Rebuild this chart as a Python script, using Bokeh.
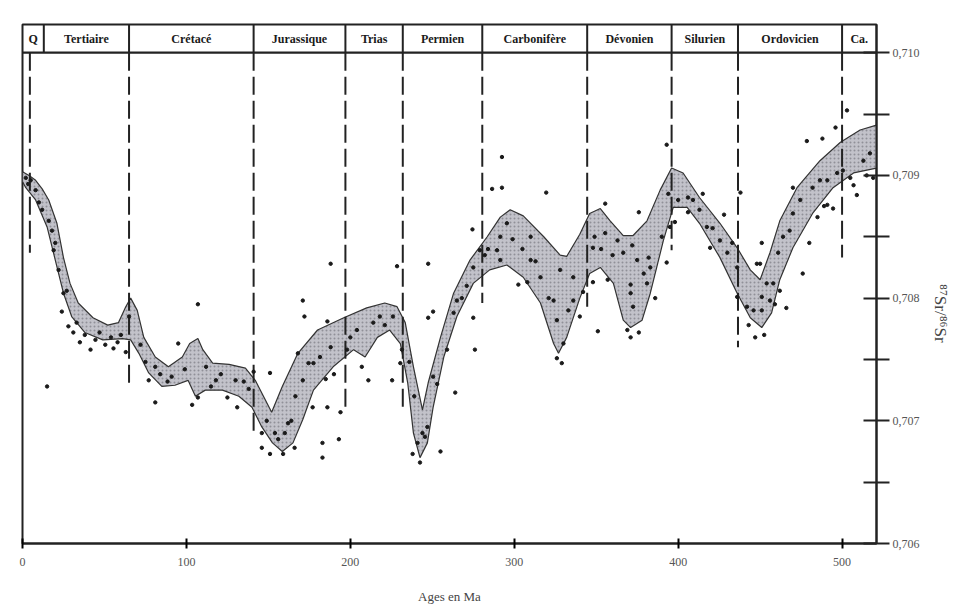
import math
from bokeh.plotting import figure
from bokeh.models import FixedTicker, CustomJSTickFormatter, Range1d
from bokeh.core.properties import value
from bokeh.embed import file_html
from bokeh.resources import INLINE

# ---------------- data ----------------
# upper edge of the 87Sr/86Sr envelope (age Ma, ratio)
upper_age = [0, 4, 8, 12, 16, 21, 25, 29, 34, 43, 52, 58.5, 63, 66, 70, 74, 81, 89, 97.5, 102, 107, 110,
             116, 126, 136, 142, 147, 152, 158.5, 168, 180, 196, 210, 221, 228.5, 233.5, 238.5, 244, 247.5,
             255, 263, 273, 283.5, 291.5, 297.5, 305.5, 318, 328, 332, 340, 346, 352.5, 358.5, 366.5, 372.5,
             381, 389, 396, 403, 413, 425.5, 436, 444, 450, 456, 462, 472.5, 486.5, 499, 511, 521]
upper_sr = [0.70903, 0.70900, 0.70896, 0.70889, 0.70880, 0.70861, 0.70833, 0.70812, 0.70796, 0.70784, 0.70778,
            0.70780, 0.70793, 0.70800, 0.70790, 0.70768, 0.70752, 0.70744, 0.70752, 0.70763, 0.70767, 0.70758,
            0.70747, 0.70746, 0.70743, 0.70733, 0.70720, 0.70707, 0.70728, 0.70755, 0.70774, 0.70784, 0.70792,
            0.70796, 0.70793, 0.70780, 0.70744, 0.70709, 0.70731, 0.70768, 0.70804, 0.70831, 0.70850, 0.70866,
            0.70872, 0.70867, 0.70850, 0.70835, 0.70834, 0.70852, 0.70869, 0.70873, 0.70863, 0.70851, 0.70851,
            0.70863, 0.70888, 0.70906, 0.70902, 0.70882, 0.70861, 0.70841, 0.70823, 0.70815, 0.70837, 0.70863,
            0.70890, 0.70912, 0.70927, 0.70937, 0.70941]
# lower edge of the envelope
lower_age = [0, 2, 8, 15, 20, 25, 30, 38, 49, 61, 66, 71, 77, 85, 93, 101, 105.5, 111.5, 122, 132, 140, 146,
             152.5, 158.5, 165, 171, 177.5, 189.5, 202, 209, 216.5, 224, 230.5, 235, 238.5, 242.5, 247, 250.5,
             257, 265, 275, 285, 295.5, 305.5, 316, 324, 327, 332, 340, 346, 352.5, 360.5, 366.5, 371, 378, 383,
             391, 397, 405.5, 413, 425.5, 436, 444, 451, 457, 462, 470, 482, 494.5, 507, 521]
lower_sr = [0.70895, 0.70890, 0.70880, 0.70858, 0.70831, 0.70804, 0.70785, 0.70772, 0.70766, 0.70767, 0.70766,
            0.70755, 0.70739, 0.70728, 0.70729, 0.70733, 0.70720, 0.70725, 0.70725, 0.70720, 0.70711, 0.70695,
            0.70682, 0.70675, 0.70682, 0.70701, 0.70725, 0.70744, 0.70758, 0.70752, 0.70768, 0.70774, 0.70763,
            0.70731, 0.70690, 0.70670, 0.70682, 0.70711, 0.70752, 0.70785, 0.70812, 0.70823, 0.70827, 0.70817,
            0.70796, 0.70763, 0.70755, 0.70768, 0.70800, 0.70820, 0.70825, 0.70812, 0.70782, 0.70776, 0.70782,
            0.70804, 0.70847, 0.70874, 0.70874, 0.70861, 0.70833, 0.70804, 0.70784, 0.70776, 0.70788, 0.70815,
            0.70841, 0.70869, 0.70890, 0.70902, 0.70906]

# measured samples
dot_age = [3.5, 2, 8, 12, 16, 18, 19, 22, 25, 15, 24, 28, 31, 35, 41.5, 44.5, 50.5, 55.5, 58, 63, 65,
           77, 81, 81, 88.5, 95, 103.5, 107, 107, 118, 125, 130, 131, 141, 146, 146, 151, 151, 156, 159,
           162, 166, 166.5, 168, 171, 171, 172, 174.5, 177, 177.5, 181.5, 183, 183, 185, 186, 186, 188,
           188, 190, 193, 194, 198, 204, 207, 211, 218, 225.5, 226, 228.5, 230.5, 231.5, 238, 241, 242.5,
           245.5, 247, 247.5, 247.5, 250.5, 250.5, 255, 259, 263, 264, 265, 274.5, 275, 275, 276, 279,
           286.5, 289.5, 291.5, 291.5, 292.5, 292.5, 295.5, 302.5, 308, 310, 310, 316, 319.5, 324, 326,
           326, 328, 329, 330, 336, 336, 340, 348, 348, 349, 351, 355.5, 355.5, 357, 363, 366.5, 369, 371,
           371, 371, 372, 372.5, 375, 376, 376, 381, 382, 383, 393, 393, 394, 395, 400, 406, 406, 413,
           417.5, 419.5, 421, 425.5, 430, 436, 436, 438, 442, 443, 446, 447, 450, 451, 451, 451, 452.5,
           456, 458, 461, 462, 464, 468, 470, 470, 474.5, 478.5, 482, 485, 486.5, 488, 491, 491, 494.5,
           496, 497, 500.5, 503, 505, 507, 513, 517, 519,
           5, 10, 20, 27, 33, 38, 47, 54, 60, 72, 75, 84, 91, 99, 112, 115, 121, 135, 138, 149, 154,
           160, 164, 200, 214, 221, 236, 239, 244, 253, 268, 271, 282, 284, 299, 305, 313, 321, 333,
           342, 353, 360, 379, 386, 390, 398, 409, 415, 428, 433, 448, 454, 459, 466, 476, 480, 489, 509, 515]
dot_sr = [0.70893, 0.70898, 0.70888, 0.70872, 0.70863, 0.70855, 0.70839, 0.70823, 0.70804, 0.70728, 0.70789,
          0.70777, 0.70772, 0.70764, 0.70758, 0.70766, 0.70762, 0.70759, 0.70764, 0.70756, 0.70785,
          0.70733, 0.70744, 0.70715, 0.70732, 0.70763, 0.70713, 0.70719, 0.70795, 0.70733, 0.70719, 0.70733,
          0.70711, 0.70740, 0.70690, 0.70678, 0.70739, 0.70673, 0.70685, 0.70673, 0.70698, 0.70678, 0.70720,
          0.70755, 0.70733, 0.70798, 0.70785, 0.70747, 0.70711, 0.70747, 0.70752, 0.70682, 0.70670, 0.70734,
          0.70711, 0.70781, 0.70828, 0.70760, 0.70738, 0.70685, 0.70707, 0.70758, 0.70774, 0.70744, 0.70733,
          0.70785, 0.70733, 0.70785, 0.70826, 0.70747, 0.70758, 0.70673, 0.70682, 0.70666, 0.70687, 0.70695,
          0.70828, 0.70784, 0.70789, 0.70736, 0.70675, 0.70758, 0.70788, 0.70723, 0.70798, 0.70856, 0.70784,
          0.70825, 0.70758, 0.70839, 0.70889, 0.70839, 0.70850, 0.70831, 0.70915, 0.70890, 0.70861, 0.70811,
          0.70813, 0.70850, 0.70831, 0.70817, 0.70886, 0.70798, 0.70782, 0.70751, 0.70823, 0.70747, 0.70763,
          0.70798, 0.70817, 0.70785, 0.70813, 0.70841, 0.70850, 0.70773, 0.70877, 0.70853, 0.70815, 0.70847,
          0.70837, 0.70774, 0.70768, 0.70804, 0.70811, 0.70843, 0.70793, 0.70831, 0.70870, 0.70772, 0.70812,
          0.70833, 0.70825, 0.70925, 0.70829, 0.70885, 0.70858, 0.70880, 0.70870, 0.70882, 0.70872, 0.70858,
          0.70841, 0.70857, 0.70847, 0.70837, 0.70825, 0.70801, 0.70886, 0.70793, 0.70778, 0.70790, 0.70768,
          0.70828, 0.70845, 0.70790, 0.70801, 0.70770, 0.70798, 0.70812, 0.70837, 0.70806, 0.70850, 0.70855,
          0.70869, 0.70890, 0.70880, 0.70928, 0.70890, 0.70866, 0.70896, 0.70930, 0.70876, 0.70896, 0.70873,
          0.70939, 0.70902, 0.70904, 0.70953, 0.70898, 0.70892, 0.70912, 0.70918, 0.70898,
          0.70896, 0.70878, 0.70845, 0.70806, 0.70780, 0.70770, 0.70772, 0.70768, 0.70770, 0.70762, 0.70748,
          0.70738, 0.70736, 0.70742, 0.70744, 0.70728, 0.70738, 0.70732, 0.70726, 0.70700, 0.70690,
          0.70690, 0.70700, 0.70768, 0.70780, 0.70778, 0.70748, 0.70720, 0.70690, 0.70730, 0.70800, 0.70810,
          0.70835, 0.70840, 0.70848, 0.70840, 0.70830, 0.70800, 0.70790, 0.70805, 0.70840, 0.70835, 0.70820,
          0.70800, 0.70850, 0.70862, 0.70880, 0.70885, 0.70868, 0.70845, 0.70828, 0.70812, 0.70795, 0.70792,
          0.70820, 0.70845, 0.70875, 0.70884, 0.70900, 0.70920, 0.70925]

# geological periods (header)
periods = ["Q", "Tertiaire", "Crétacé", "Jurassique", "Trias", "Permien", "Carbonifère",
           "Dévonien", "Silurien", "Ordovicien", "Ca."]
period_bounds = [0, 13, 65, 141, 197, 232, 280.5, 344.5, 396, 436.5, 500, 521]
# dashed boundary lines below the header: age and lower end of each dash
dash_age = [4.5, 65, 141, 197, 232, 280.5, 344.5, 396, 436.5, 500]
dash_end = [0.70837, 0.70727, 0.70687, 0.70707, 0.70709, 0.70796, 0.70793, 0.70839, 0.70760, 0.70833]

x_ticks = [0, 100, 200, 300, 400, 500]
y_ticks = [0.706, 0.707, 0.708, 0.709, 0.710]
y_minor = [0.7065, 0.7075, 0.7085, 0.7095]

X_MAX = 521
Y_MIN, Y_HEAD, Y_MAX = 0.706, 0.710, 0.71023
Y_TITLE = "⁸⁷Sr/⁸⁶Sr"

# ---------------- figure ----------------
SERIF = "Liberation Serif"
p = figure(width=963, height=606, x_range=Range1d(0, X_MAX), y_range=Range1d(Y_MIN, Y_MAX),
           output_backend="svg", toolbar_location=None, y_axis_location="right",
           min_border_left=22, min_border_right=87, min_border_top=24, min_border_bottom=62)
p.xgrid.visible = False
p.ygrid.visible = False
p.outline_line_color = "#222222"
p.outline_line_width = 2
p.background_fill_color = "white"
p.border_fill_color = "white"

# envelope
p.patch(upper_age + lower_age[::-1], upper_sr + lower_sr[::-1],
        fill_color="#c2c2ca", line_color="#333333", line_width=1.2,
        hatch_pattern="dot", hatch_color="#6e6e76", hatch_alpha=0.6, hatch_scale=4, hatch_weight=1)

# dashed period boundaries
p.segment(x0=dash_age, y0=[Y_HEAD] * len(dash_age), x1=dash_age, y1=dash_end,
          line_color="#222222", line_width=2, line_dash="18 6")

# samples
p.scatter(dot_age, dot_sr, size=3.4, marker="circle", fill_color="#1a1a1a", line_color="#1a1a1a")

# header band
p.segment(x0=[0], y0=[Y_HEAD], x1=[X_MAX], y1=[Y_HEAD], line_color="#222222", line_width=2.2)
inner = period_bounds[1:-1]
p.segment(x0=inner, y0=[Y_HEAD] * len(inner), x1=inner, y1=[Y_MAX] * len(inner),
          line_color="#222222", line_width=2)
mids = [(a + b) / 2 for a, b in zip(period_bounds[:-1], period_bounds[1:])]
p.text(x=mids, y=[(Y_HEAD + Y_MAX) / 2] * len(mids), text=periods,
       text_font=value(SERIF), text_font_style="bold", text_font_size="12px",
       text_align="center", text_baseline="middle", text_color="#1a1a1a")

# axes
xa = p.xaxis[0]
xa.ticker = FixedTicker(ticks=x_ticks)
xa.axis_line_width = 2
xa.axis_line_color = "#222222"
xa.major_tick_in = 5
xa.major_tick_out = 5
xa.major_tick_line_width = 2
xa.minor_tick_line_color = None
xa.major_label_text_font = SERIF
xa.major_label_text_font_size = "12px"
xa.major_label_text_color = "#555555"
xa.major_label_standoff = 9
xa.axis_label = "Ages en Ma"
xa.axis_label_text_font = SERIF
xa.axis_label_text_font_style = "normal"
xa.axis_label_text_font_size = "13px"
xa.axis_label_text_color = "#444444"
xa.axis_label_standoff = 20

ya = p.yaxis[0]
ya.ticker = FixedTicker(ticks=y_ticks, minor_ticks=y_minor)
ya.formatter = CustomJSTickFormatter(code="return tick.toFixed(3).replace('.', ',');")
ya.axis_line_width = 2
ya.axis_line_color = "#222222"
ya.major_tick_in = 13
ya.major_tick_out = 13
ya.minor_tick_in = 13
ya.minor_tick_out = 13
ya.major_tick_line_width = 2
ya.minor_tick_line_width = 2
ya.major_tick_line_color = "#222222"
ya.minor_tick_line_color = "#222222"
ya.major_label_text_font = SERIF
ya.major_label_text_font_size = "12px"
ya.major_label_text_color = "#555555"
ya.major_label_standoff = 3

ya.axis_label_orientation = -math.pi / 2
ya.axis_label = Y_TITLE + "\u00a0" * 32
ya.axis_label_text_font = SERIF
ya.axis_label_text_font_style = "normal"
ya.axis_label_text_font_size = "17px"
ya.axis_label_text_color = "#444444"
ya.axis_label_standoff = 18

open("out.html", "w").write(file_html(p, INLINE))
